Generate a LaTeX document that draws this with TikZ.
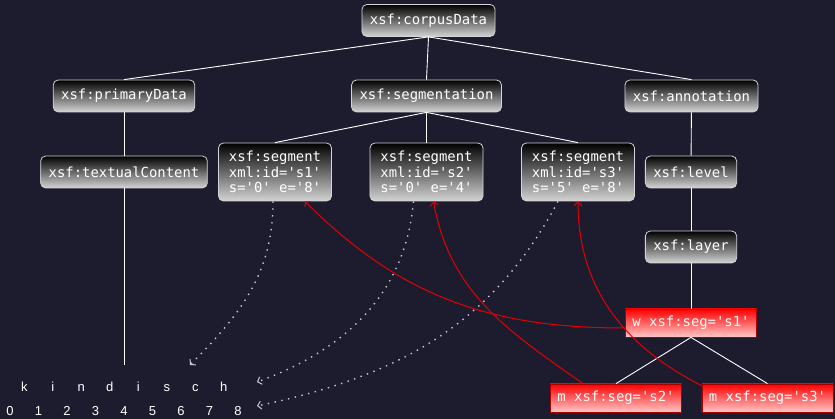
\documentclass[tikz,border=0pt]{standalone}
\usepackage{fontspec}
\usetikzlibrary{arrows.meta}
\setmainfont{Liberation Sans}
\newfontfamily\xsfmono[Ligatures=TeXOff]{DejaVu Sans Mono}
\definecolor{bgnavy}{RGB}{29,28,46}
\definecolor{boxgrey}{RGB}{212,212,212}
\definecolor{dotgrey}{RGB}{200,200,210}
\begin{document}
\begin{tikzpicture}[x=1pt, y=1pt,
  xsf/.style={draw=boxgrey, line width=0.8pt, rounded corners=5pt, top color=black, bottom color=boxgrey, text=white, font={\xsfmono\fontsize{13.9}{15.5}\selectfont}, inner xsep=8pt, inner ysep=4pt, minimum height=32pt, align=left},
  segbox/.style={xsf, inner xsep=10.5pt, minimum height=58pt},
  ann/.style={draw=red!65!black, line width=0.8pt, top color=red, bottom color=red!22, text=white, font={\xsfmono\fontsize{13.9}{15.5}\selectfont}, inner xsep=7pt, minimum height=28pt},
  edge/.style={draw=white, line width=0.9pt},
  ptr/.style={draw=dotgrey, line width=1.4pt, dash pattern=on 1.4pt off 5.5pt, -{Straight Barb[length=3.5pt,width=8pt,line width=1pt]}},
  ref/.style={draw=red!90!black, line width=1pt, -{Straight Barb[length=3.5pt,width=8pt]}},
  txt/.style={text=white, font=\fontsize{13}{15}\selectfont, anchor=base, inner sep=0pt}]
\useasboundingbox (0,0) rectangle (835,419);
\fill[bgnavy] (0,0) rectangle (835,419);
\node[xsf] (corpus) at (428.5,398.5){xsf:corpusData};
\node[xsf] (primary) at (124,323){xsf:primaryData};
\node[xsf] (segm) at (426.5,323){xsf:segmentation};
\node[xsf] (annot) at (691.5,323){xsf:annotation};
\draw[edge](corpus.south) -- (primary.north);
\draw[edge](corpus.south) -- (segm.north);
\draw[edge](corpus.south) -- (annot.north);
\node[xsf] (textual) at (124,247){xsf:textualContent};
\draw[edge](primary) -- (textual);
\coordinate (tcend) at (124,54);
\draw[edge](textual) -- (tcend);
\node[segbox] (seg1) at (275,247){xsf:segment\\xml:id='s1'\\s='0' e='8'};
\node[segbox] (seg2) at (426.5,247){xsf:segment\\xml:id='s2'\\s='0' e='4'};
\node[segbox] (seg3) at (578,247){xsf:segment\\xml:id='s3'\\s='5' e='8'};
\draw[edge](segm.south) -- (seg1.north);
\draw[edge](segm.south) -- (seg2.north);
\draw[edge](segm.south) -- (seg3.north);
\node[xsf] (level) at (691,247){xsf:level};
\node[xsf] (layer) at (691,172){xsf:layer};
\draw[edge](annot) -- (level);
\draw[edge](level) -- (layer);
\node[ann] (w1) at (691,96){w xsf:seg='s1'};
\draw[edge](layer) -- (w1);
\node[ann] (m2) at (616,21){m xsf:seg='s2'};
\node[ann] (m3) at (767.5,21){m xsf:seg='s3'};
\draw[edge](w1.south) -- (m2.north);
\draw[edge](w1.south) -- (m3.north);
\foreach \c [count=\i from 0] in {k,i,n,d,i,s,c,h}
  \node[txt] (chr\i) at (24.25+28.5*\i,27.5){\c};
\foreach \i in {0,...,8}
  \node[txt] (pos\i) at (10+28.5*\i,3.5){\i};
\coordinate (d1) at (190,54);
\coordinate (d2) at (257,37);
\coordinate (d3) at (257,13);
\draw[ptr]([xshift=-2]seg1.south) to[out=-90, in=45] (d1);
\draw[ptr]([xshift=-13]seg2.south) to[out=-95, in=20] (d2);
\draw[ptr]([xshift=-20]seg3.south) to[out=-118, in=12] (d3);
\draw[ref]([yshift=-5]w1.west) to[out=180, in=-45] ([xshift=30]seg1.south);
\draw[ref]([xshift=-33]m2.north) to[out=145, in=-80] ([xshift=7]seg2.south);
\draw[ref]([yshift=-2]m3.north west) to[out=153, in=-90] (seg3.south);
\end{tikzpicture}
\end{document}
